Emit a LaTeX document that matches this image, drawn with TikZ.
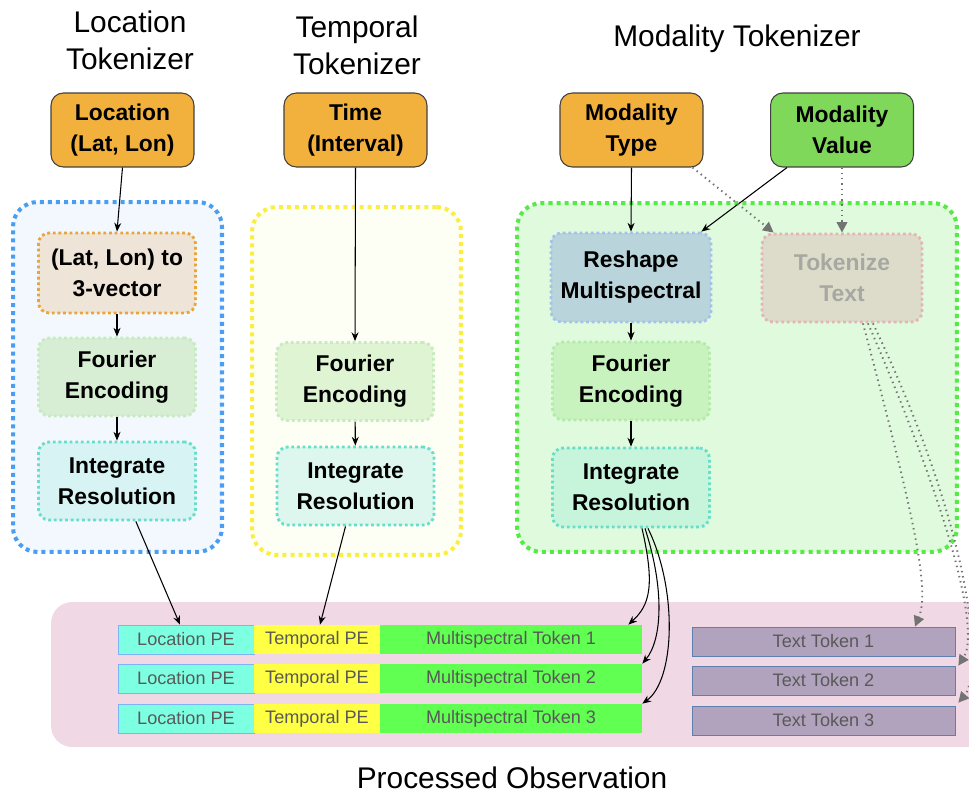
\documentclass[tikz,border=0pt]{standalone}
\usepackage{fontspec}
\setmainfont{Liberation Sans}
\usetikzlibrary{arrows.meta}

\definecolor{inorange}{HTML}{F2B03C}
\definecolor{invalue}{HTML}{80D85A}
\definecolor{locline}{HTML}{4A9EF2}
\definecolor{locfill}{HTML}{F3F8FE}
\definecolor{timeline}{HTML}{FAEF40}
\definecolor{timefill}{HTML}{FDFEF4}
\definecolor{modline}{HTML}{55EA45}
\definecolor{modfill}{HTML}{DFFADC}
\definecolor{resline}{HTML}{66DEC9}
\definecolor{latline}{HTML}{E8A63A}
\definecolor{latfill}{HTML}{EFE4D8}
\definecolor{fourline}{HTML}{C6EBBE}
\definecolor{locfourfill}{HTML}{D8EED4}
\definecolor{timefourfill}{HTML}{DEF4D3}
\definecolor{modfourline}{HTML}{B5EBAA}
\definecolor{modfourfill}{HTML}{C8F3BF}
\definecolor{locresfill}{HTML}{D7F3F3}
\definecolor{timeresfill}{HTML}{DEF7EE}
\definecolor{modresfill}{HTML}{C6F5DC}
\definecolor{reshapeline}{HTML}{A6C2E9}
\definecolor{reshapefill}{HTML}{B9D4DA}
\definecolor{textline}{HTML}{E5B5B5}
\definecolor{textfill}{HTML}{DDDCCB}
\definecolor{textgray}{HTML}{A8A8A2}
\definecolor{panelfill}{HTML}{F0D9E5}
\definecolor{pefill}{HTML}{7DFFE2}
\definecolor{peline}{HTML}{7FB3F5}
\definecolor{tpfill}{HTML}{FFFF44}
\definecolor{mspfill}{HTML}{60FF52}
\definecolor{txtfill}{HTML}{B1A3BD}
\definecolor{txtline}{HTML}{5F7FAE}

\begin{document}
\begin{tikzpicture}[x=0.02cm, y=-0.02cm,
        title/.style={font=\fontsize{17}{21}\selectfont, align=center, inner sep=0pt},
        inbox/.style={rectangle, draw=black!75, line width=0.6pt, rounded corners=7pt, minimum width=2.86cm, minimum height=1.48cm, font=\fontsize{13}{17.6}\selectfont\bfseries, align=center},
        group/.style={rectangle, line width=2.3pt, dash pattern=on 2.3pt off 2.3pt, rounded corners=14pt},
        stage/.style={rectangle, line width=1.6pt, dash pattern=on 1.6pt off 1.6pt, rounded corners=6pt, minimum width=3.14cm, minimum height=1.56cm, font=\fontsize{13}{17.6}\selectfont\bfseries, align=center},
        token/.style={rectangle, minimum height=0.58cm, inner sep=0pt, font=\fontsize{10.3}{12}\selectfont, text=black!65},
        flow/.style={-{Stealth[length=5pt, width=4pt]}, line width=0.6pt},
        dotflow/.style={-{Triangle[length=6pt, width=6pt]}, black!55, line width=1.1pt, dash pattern=on 0.8pt off 2.2pt}
    ]
        \useasboundingbox (0,0) rectangle (969,794);

        % background panels
        \node[rectangle, fill=panelfill, rounded corners=12pt, minimum width=18.78cm, minimum height=2.9cm] (panel) at (520.5,674.5) {};
        \node[group, draw=locline, fill=locfill, minimum width=4.18cm, minimum height=7cm] (locgrp) at (117.5,377) {};
        \node[group, draw=timeline, fill=timefill, minimum width=4.18cm, minimum height=6.96cm] (timegrp) at (356.5,381) {};
        \node[group, draw=modline, fill=modfill, minimum width=8.8cm, minimum height=6.98cm] (modgrp) at (737,377.5) {};

        % titles
        \node[title] (loctitle) at (130,40) {Location\\Tokenizer};
        \node[title] (timetitle) at (357,45) {Temporal\\Tokenizer};
        \node[title] (modtitle) at (737,39) {Modality Tokenizer};
        \node[title] (obstitle) at (512,778) {Processed Observation};

        % inputs
        \node[inbox, fill=inorange] (locin) at (122.5,130) {Location\\(Lat, Lon)};
        \node[inbox, fill=inorange] (timein) at (355.5,130) {Time\\(Interval)};
        \node[inbox, fill=inorange] (typein) at (631.5,130) {Modality\\Type};
        \node[inbox, fill=invalue] (valuein) at (842,130) {Modality\\Value};

        % location tokenizer
        \node[stage, draw=latline, fill=latfill, minimum height=1.6cm] (latlon) at (117,273) {(Lat, Lon) to\\3-vector};
        \node[stage, draw=fourline, fill=locfourfill] (locfour) at (117,377) {Fourier\\Encoding};
        \node[stage, draw=resline, fill=locresfill] (locres) at (117,481) {Integrate\\Resolution};

        % temporal tokenizer
        \node[stage, draw=fourline, fill=timefourfill] (timefour) at (355,381.5) {Fourier\\Encoding};
        \node[stage, draw=resline, fill=timeresfill] (timeres) at (355.5,486) {Integrate\\Resolution};

        % modality tokenizer
        \node[stage, draw=reshapeline, fill=reshapefill, minimum width=3.2cm, minimum height=1.78cm] (reshape) at (631,277.5) {Reshape\\Multispectral};
        \node[stage, draw=textline, fill=textfill, text=textgray, minimum width=3.2cm, minimum height=1.76cm] (tokentext) at (842,278) {Tokenize\\Text};
        \node[stage, draw=modfourline, fill=modfourfill] (modfour) at (631,381) {Fourier\\Encoding};
        \node[stage, draw=resline, fill=modresfill, minimum height=1.58cm] (modres) at (631,487.5) {Integrate\\Resolution};

        % token rows
        \foreach \row/\y in {1/639.5, 2/678.5, 3/718.5} {
            \node[token, fill=pefill, draw=peline, minimum width=2.72cm] (locpe\row) at (186,\y) {Location PE};
            \node[token, fill=tpfill, minimum width=2.52cm] (timepe\row) at (317,\y) {Temporal PE};
            \node[token, fill=mspfill, minimum width=5.24cm] (msp\row) at (511,\y) {Multispectral Token \row};
            \node[token, fill=txtfill, draw=txtline, minimum width=5.26cm] (txt\row) at (823.5,\y+2) {Text Token \row};
        }

        % connectors
        \draw[flow] (locin.south) -- (latlon.north);
        \draw[flow] (latlon) -- (locfour);
        \draw[flow] (locfour) -- (locres);
        \draw[flow] (locres.-65) -- ([xshift=-0.12cm]locpe1.north);

        \draw[flow] (timein.south) -- (timefour.north);
        \draw[flow] (timefour) -- (timeres);
        \draw[flow] ([xshift=-0.2cm]timeres.south) -- ([xshift=0.06cm]timepe1.north);

        \draw[flow] (typein.south) -- (reshape.north);
        \draw[flow] ([xshift=-1.1cm]valuein.south) -- ([xshift=-0.22cm]reshape.north east);
        \draw[flow] (reshape) -- (modfour);
        \draw[flow] (modfour) -- (modres);
        \draw[flow] ([xshift=0.22cm]modres.south) .. controls (655,585) and (650,605) .. ([xshift=-0.28cm]msp1.north east);
        \draw[flow] ([xshift=0.28cm]modres.south) .. controls (665,590) and (662,640) .. (msp2.north east);
        \draw[flow] ([xshift=0.34cm]modres.south) .. controls (678,590) and (675,680) .. (msp3.north east);

        \draw[dotflow] ([xshift=-0.22cm]typein.south east) -- ([xshift=0.26cm]tokentext.north west);
        \draw[dotflow] (valuein.south) -- (tokentext.north);
        \draw[dotflow] ([xshift=0.42cm]tokentext.south) .. controls (915,520) and (930,590) .. ([xshift=1.83cm]txt1.north);
        \draw[dotflow] ([xshift=0.52cm]tokentext.south) .. controls (970,560) and (975,640) .. ([xshift=0.06cm]txt2.north east);
        \draw[dotflow] ([xshift=0.62cm]tokentext.south) .. controls (985,560) and (978,680) .. ([xshift=0.06cm, yshift=0.06cm]txt3.north east);
    \end{tikzpicture}
\end{document}
